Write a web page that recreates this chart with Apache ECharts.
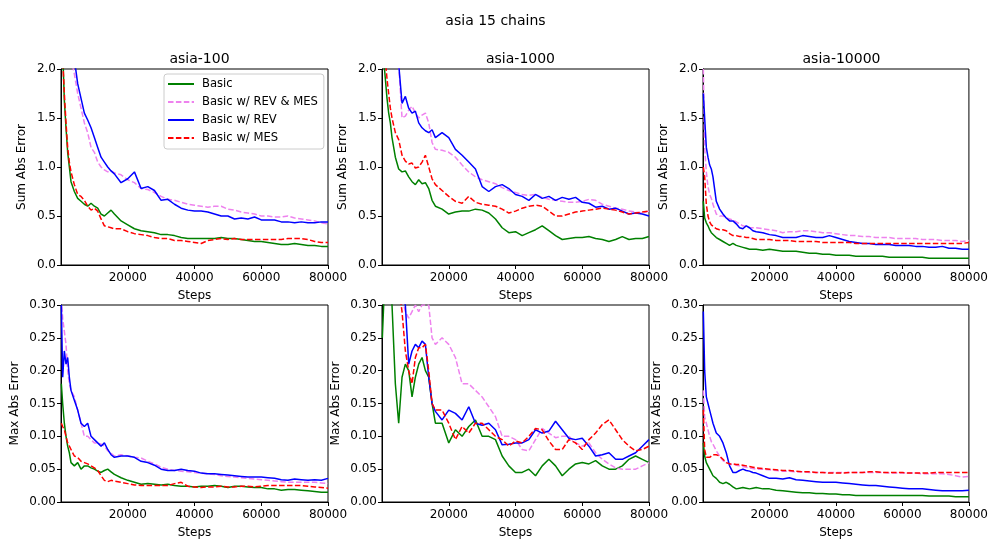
<!DOCTYPE html>
<html>
<head>
<meta charset="utf-8">
<script src="https://cdn.jsdelivr.net/npm/echarts@6/dist/echarts.min.js"></script>
<style>html,body{margin:0;padding:0;background:#fff}#c{width:991px;height:540px}</style>
</head>
<body>
<div id="c"></div>
<script>
const steps = [100,500,1000,1500,2000,2500,3000,4000,5000,6000,7000,8000,9000,10000,11000,12000,13000,14000,15000,16000,18000,20000,22000,24000,26000,28000,30000,32000,34000,36000,38000,40000,42000,44000,46000,48000,50000,52000,54000,56000,58000,60000,62000,64000,66000,68000,70000,72000,74000,76000,78000,80000];
const seriesNames = ['Basic', 'Basic w/ REV & MES', 'Basic w/ REV', 'Basic w/ MES'];
const panelTitles = ['asia-100', 'asia-1000', 'asia-10000'];
const xTicks = [20000, 40000, 60000, 80000];

// asia-100, Sum Abs Error
const sum100_basic = [2.4,2.2,1.68,1.4,1.15,1.0,0.85,0.75,0.68,0.65, 0.62,0.6,0.63,0.6,0.58,0.52,0.5,0.53,0.56,0.52, 0.45,0.41,0.37,0.35,0.34,0.33,0.31,0.31,0.3,0.28, 0.27,0.27,0.27,0.27,0.27,0.28,0.27,0.27,0.26,0.25, 0.24,0.24,0.23,0.22,0.21,0.21,0.22,0.21,0.2,0.2, 0.19,0.19];
const sum100_revmes = [3.0,2.8,2.7,2.6,2.5,2.3,2.1,1.95,1.75,1.6, 1.45,1.35,1.2,1.15,1.05,1.0,0.97,0.95,0.96,0.94, 0.92,0.87,0.84,0.78,0.77,0.74,0.7,0.67,0.66,0.64, 0.62,0.61,0.6,0.59,0.6,0.6,0.57,0.56,0.54,0.53, 0.52,0.5,0.5,0.49,0.49,0.5,0.48,0.47,0.46,0.45, 0.43,0.42];
const sum100_rev = [3.0,2.8,2.7,2.6,2.5,2.4,2.3,2.1,1.85,1.7, 1.55,1.48,1.4,1.3,1.2,1.1,1.05,1.0,0.96,0.93, 0.84,0.88,0.95,0.78,0.8,0.76,0.66,0.67,0.62,0.58, 0.56,0.55,0.55,0.54,0.52,0.5,0.5,0.47,0.48,0.47, 0.49,0.46,0.46,0.46,0.44,0.44,0.43,0.44,0.43,0.43, 0.44,0.44];
const sum100_mes = [2.3,2.1,1.75,1.45,1.2,1.05,0.95,0.82,0.72,0.7, 0.66,0.6,0.56,0.58,0.55,0.47,0.4,0.39,0.38,0.37, 0.37,0.34,0.32,0.31,0.3,0.28,0.27,0.27,0.25,0.25, 0.24,0.23,0.22,0.25,0.26,0.27,0.26,0.27,0.26,0.26, 0.26,0.26,0.26,0.26,0.26,0.27,0.27,0.27,0.26,0.24, 0.23,0.23];

// asia-1000, Sum Abs Error
const sum1000_basic = [2.3,2.1,1.9,1.7,1.55,1.45,1.3,1.1,0.98,0.95, 0.96,0.9,0.85,0.82,0.87,0.83,0.84,0.78,0.66,0.6, 0.57,0.52,0.54,0.55,0.55,0.57,0.56,0.53,0.47,0.38, 0.33,0.34,0.3,0.33,0.36,0.4,0.35,0.3,0.26,0.27, 0.28,0.28,0.29,0.27,0.26,0.24,0.26,0.29,0.26,0.27, 0.27,0.29];
const sum1000_revmes = [3.0,2.9,2.8,2.7,2.6,2.5,2.4,2.2,2.05,1.5, 1.52,1.58,1.62,1.55,1.5,1.53,1.55,1.45,1.25,1.18, 1.17,1.15,1.1,1.02,0.95,0.9,0.87,0.85,0.83,0.79, 0.76,0.74,0.72,0.71,0.72,0.69,0.67,0.66,0.65,0.64, 0.64,0.65,0.67,0.66,0.62,0.6,0.58,0.57,0.55,0.54, 0.53,0.55];
const sum1000_rev = [3.0,2.9,2.8,2.7,2.6,2.5,2.4,2.2,2.05,1.65, 1.72,1.6,1.55,1.57,1.45,1.4,1.37,1.35,1.38,1.3, 1.35,1.3,1.18,1.12,1.05,0.98,0.8,0.75,0.8,0.82, 0.78,0.72,0.7,0.66,0.72,0.68,0.7,0.66,0.69,0.67, 0.69,0.64,0.63,0.59,0.6,0.57,0.58,0.55,0.52,0.53, 0.52,0.5];
const sum1000_mes = [2.6,2.4,2.1,1.9,1.75,1.6,1.5,1.35,1.28,1.12, 1.06,1.03,1.04,0.99,1.0,1.05,1.12,1.0,0.88,0.82, 0.76,0.7,0.65,0.63,0.7,0.64,0.62,0.61,0.6,0.57, 0.53,0.55,0.58,0.6,0.61,0.6,0.55,0.5,0.5,0.52, 0.54,0.55,0.56,0.57,0.58,0.57,0.56,0.54,0.52,0.53, 0.54,0.55];

// asia-10000, Sum Abs Error
const sum10000_basic = [0.65,0.48,0.43,0.4,0.36,0.33,0.31,0.28,0.26,0.24, 0.22,0.2,0.22,0.2,0.19,0.18,0.17,0.16,0.16,0.16, 0.15,0.16,0.15,0.14,0.14,0.14,0.13,0.12,0.12,0.11, 0.11,0.1,0.1,0.1,0.09,0.09,0.09,0.09,0.09,0.08, 0.08,0.08,0.08,0.08,0.08,0.07,0.07,0.07,0.07,0.07, 0.07,0.07];
const sum10000_revmes = [2.0,1.2,0.95,0.8,0.72,0.68,0.62,0.52,0.5,0.5, 0.48,0.47,0.46,0.44,0.42,0.4,0.39,0.38,0.38,0.38, 0.37,0.36,0.35,0.33,0.34,0.34,0.35,0.35,0.34,0.33, 0.33,0.32,0.31,0.3,0.3,0.29,0.29,0.28,0.28,0.28, 0.27,0.27,0.27,0.27,0.26,0.26,0.26,0.25,0.25,0.25, 0.24,0.25];
const sum10000_rev = [1.75,1.5,1.2,1.1,1.02,0.98,0.9,0.65,0.57,0.52, 0.48,0.45,0.45,0.42,0.38,0.37,0.4,0.38,0.35,0.34, 0.33,0.31,0.3,0.28,0.28,0.28,0.3,0.29,0.28,0.28, 0.3,0.28,0.26,0.24,0.23,0.22,0.22,0.21,0.21,0.21, 0.2,0.2,0.2,0.19,0.19,0.18,0.18,0.19,0.17,0.17, 0.16,0.16];
const sum10000_mes = [1.0,0.9,0.62,0.5,0.44,0.41,0.39,0.37,0.36,0.36, 0.35,0.32,0.3,0.3,0.29,0.29,0.28,0.28,0.27,0.26, 0.26,0.26,0.25,0.25,0.25,0.24,0.24,0.24,0.24,0.23, 0.23,0.23,0.23,0.23,0.22,0.22,0.22,0.22,0.22,0.22, 0.22,0.22,0.22,0.22,0.22,0.22,0.22,0.22,0.22,0.22, 0.22,0.23];

// asia-100, Max Abs Error
const max100_basic = [0.18,0.15,0.12,0.1,0.085,0.075,0.06,0.055,0.06,0.05, 0.055,0.055,0.052,0.05,0.047,0.045,0.048,0.05,0.046,0.042, 0.037,0.033,0.03,0.027,0.028,0.027,0.026,0.027,0.025,0.024, 0.024,0.023,0.024,0.024,0.025,0.024,0.022,0.024,0.024,0.023, 0.022,0.022,0.02,0.02,0.018,0.019,0.019,0.018,0.017,0.016, 0.015,0.015];
const max100_revmes = [0.31,0.28,0.26,0.24,0.2,0.18,0.17,0.16,0.14,0.12, 0.1,0.1,0.095,0.09,0.09,0.088,0.085,0.078,0.074,0.07, 0.072,0.07,0.068,0.067,0.062,0.058,0.053,0.05,0.048,0.047, 0.046,0.045,0.044,0.043,0.042,0.04,0.039,0.038,0.037,0.036, 0.035,0.034,0.033,0.032,0.031,0.03,0.03,0.03,0.03,0.03, 0.029,0.028];
const max100_rev = [0.3,0.19,0.23,0.21,0.22,0.19,0.17,0.155,0.14,0.12, 0.115,0.12,0.1,0.095,0.09,0.085,0.09,0.08,0.072,0.068, 0.07,0.07,0.068,0.062,0.06,0.056,0.05,0.048,0.048,0.05, 0.048,0.047,0.044,0.043,0.043,0.042,0.041,0.04,0.039,0.038, 0.038,0.038,0.037,0.036,0.034,0.033,0.035,0.034,0.033,0.034, 0.033,0.036];
const max100_mes = [0.12,0.115,0.11,0.1,0.09,0.085,0.08,0.07,0.068,0.062, 0.06,0.058,0.055,0.052,0.048,0.04,0.033,0.031,0.033,0.032, 0.03,0.028,0.026,0.025,0.025,0.025,0.025,0.025,0.028,0.03, 0.024,0.023,0.022,0.023,0.023,0.024,0.023,0.023,0.024,0.024, 0.023,0.024,0.025,0.025,0.025,0.025,0.025,0.025,0.024,0.023, 0.022,0.021];

// asia-1000, Max Abs Error
const max1000_basic = [0.25,0.3,0.32,0.35,0.31,0.33,0.3,0.18,0.12,0.19, 0.21,0.2,0.16,0.19,0.21,0.22,0.2,0.19,0.15,0.12, 0.12,0.09,0.11,0.1,0.115,0.125,0.1,0.1,0.095,0.07, 0.055,0.045,0.045,0.05,0.04,0.055,0.065,0.055,0.04,0.05, 0.058,0.06,0.058,0.063,0.055,0.05,0.05,0.055,0.065,0.07, 0.065,0.06];
const max1000_revmes = [0.45,0.43,0.41,0.4,0.39,0.38,0.37,0.35,0.33,0.31, 0.29,0.28,0.29,0.3,0.29,0.3,0.3,0.3,0.25,0.24, 0.25,0.24,0.22,0.18,0.18,0.17,0.16,0.145,0.13,0.1, 0.1,0.095,0.08,0.078,0.095,0.112,0.105,0.098,0.1,0.1, 0.09,0.085,0.09,0.075,0.065,0.058,0.052,0.05,0.05,0.05, 0.055,0.06];
const max1000_rev = [0.45,0.42,0.4,0.38,0.37,0.36,0.35,0.34,0.33,0.32, 0.3,0.21,0.23,0.24,0.235,0.245,0.24,0.19,0.15,0.138, 0.125,0.14,0.135,0.125,0.145,0.12,0.117,0.12,0.11,0.087, 0.088,0.09,0.09,0.095,0.11,0.105,0.108,0.123,0.11,0.097, 0.095,0.097,0.085,0.07,0.072,0.075,0.065,0.065,0.07,0.075, 0.085,0.095];
const max1000_mes = [0.45,0.43,0.41,0.4,0.39,0.38,0.37,0.35,0.33,0.29, 0.23,0.2,0.18,0.22,0.235,0.235,0.24,0.2,0.15,0.14, 0.14,0.12,0.095,0.115,0.105,0.12,0.12,0.11,0.1,0.095, 0.085,0.093,0.09,0.1,0.112,0.11,0.093,0.08,0.08,0.095, 0.09,0.08,0.095,0.105,0.118,0.125,0.11,0.095,0.085,0.078, 0.08,0.085];

// asia-10000, Max Abs Error
const max10000_basic = [0.09,0.07,0.06,0.055,0.05,0.045,0.04,0.036,0.03,0.028, 0.03,0.027,0.023,0.02,0.021,0.022,0.021,0.02,0.021,0.022, 0.02,0.02,0.018,0.017,0.016,0.015,0.014,0.014,0.013,0.013, 0.012,0.012,0.011,0.011,0.01,0.01,0.01,0.01,0.01,0.01, 0.01,0.01,0.01,0.01,0.01,0.009,0.009,0.009,0.009,0.008, 0.008,0.008];
const max10000_revmes = [0.17,0.13,0.12,0.11,0.1,0.092,0.088,0.078,0.07,0.063, 0.06,0.058,0.057,0.056,0.055,0.054,0.053,0.052,0.051,0.05, 0.05,0.049,0.048,0.047,0.047,0.046,0.046,0.045,0.045,0.045, 0.045,0.045,0.045,0.045,0.045,0.045,0.045,0.045,0.045,0.044, 0.044,0.044,0.044,0.044,0.043,0.043,0.043,0.043,0.042,0.04, 0.038,0.039];
const max10000_rev = [0.29,0.2,0.16,0.15,0.14,0.13,0.12,0.105,0.1,0.09, 0.075,0.055,0.045,0.045,0.048,0.05,0.048,0.047,0.045,0.044, 0.04,0.036,0.036,0.035,0.037,0.034,0.033,0.032,0.031,0.03, 0.03,0.03,0.029,0.028,0.027,0.026,0.025,0.025,0.024,0.023, 0.022,0.021,0.02,0.02,0.02,0.019,0.018,0.017,0.017,0.017, 0.017,0.018];
const max10000_mes = [0.14,0.08,0.068,0.065,0.068,0.07,0.072,0.072,0.07,0.065, 0.06,0.058,0.058,0.057,0.057,0.056,0.055,0.054,0.053,0.052, 0.051,0.05,0.049,0.048,0.048,0.047,0.046,0.046,0.045,0.045, 0.044,0.044,0.044,0.045,0.045,0.045,0.046,0.046,0.045,0.045, 0.045,0.045,0.044,0.044,0.044,0.044,0.045,0.045,0.045,0.045, 0.045,0.045];

const panels = [
  {row:0, col:0, y:[sum100_basic, sum100_revmes, sum100_rev, sum100_mes]},
  {row:0, col:1, y:[sum1000_basic, sum1000_revmes, sum1000_rev, sum1000_mes]},
  {row:0, col:2, y:[sum10000_basic, sum10000_revmes, sum10000_rev, sum10000_mes]},
  {row:1, col:0, y:[max100_basic, max100_revmes, max100_rev, max100_mes]},
  {row:1, col:1, y:[max1000_basic, max1000_revmes, max1000_rev, max1000_mes]},
  {row:1, col:2, y:[max10000_basic, max10000_revmes, max10000_rev, max10000_mes]}
];

const FONT = 'DejaVu Sans';
const colors = ['#008000', '#ee82ee', '#0000ff', '#ff0000'];
const dashed = [false, true, false, true];
const lefts = [61, 382, 703];
const W = 267;
const tops = [69, 305];
const Hs = [196, 197];
const rowCfg = [
  {name:'Sum Abs Error', max:2.0, interval:0.5, dec:1, gap:33},
  {name:'Max Abs Error', max:0.30, interval:0.05, dec:2, gap:40}
];

const grids = [], xAxes = [], yAxes = [], series = [];
panels.forEach((p, i) => {
  grids.push({left: lefts[p.col], top: tops[p.row], width: W, height: Hs[p.row],
    show: true, borderColor: '#000', borderWidth: 1, backgroundColor: 'transparent'});
  xAxes.push({type:'value', gridIndex:i, min:0, max:80000, interval:20000,
    name:'Steps', nameLocation:'middle', nameGap:25,
    nameTextStyle:{fontFamily:FONT, fontSize:12, color:'#000'},
    axisLine:{show:true, onZero:false, lineStyle:{color:'#000', width:1}},
    axisTick:{show:true, length:4, customValues: xTicks, lineStyle:{color:'#000'}},
    axisLabel:{show:true, customValues: xTicks, margin:7, fontFamily:FONT, fontSize:12, color:'#000',
      formatter: v => v === 0 ? '' : String(v)},
    splitLine:{show:false}});
  const rc = rowCfg[p.row];
  yAxes.push({type:'value', gridIndex:i, min:0, max:rc.max, interval:rc.interval,
    name:rc.name, nameLocation:'middle', nameGap:rc.gap, nameRotate:90,
    nameTextStyle:{fontFamily:FONT, fontSize:12, color:'#000'},
    axisLine:{show:true, onZero:false, lineStyle:{color:'#000', width:1}},
    axisTick:{show:true, length:4, lineStyle:{color:'#000'}},
    axisLabel:{margin:5, fontFamily:FONT, fontSize:12, color:'#000',
      formatter: v => v.toFixed(rc.dec)},
    splitLine:{show:false}});
  p.y.forEach((vals, k) => {
    series.push({type:'line', name: seriesNames[k], xAxisIndex:i, yAxisIndex:i,
      data: steps.map((s, j) => [s, vals[j]]),
      showSymbol:false, symbol:'none', clip:true, animation:false,
      lineStyle:{color:colors[k], width:1.5, type: dashed[k] ? [5.5, 2.4] : 'solid'},
      itemStyle:{color:colors[k]}, z: 2 + k});
  });
});

const titles = [{text:'asia 15 chains', left:'center', top:9,
  textStyle:{fontFamily:FONT, fontSize:14, fontWeight:'normal', color:'#000'}}];
panelTitles.forEach((t, c) => {
  titles.push({text:t, left: lefts[c] + W/2, top:47, textAlign:'center',
    textStyle:{fontFamily:FONT, fontSize:14, fontWeight:'normal', color:'#000'}});
});

const chart = echarts.init(document.getElementById('c'), null, {renderer:'canvas'});
chart.setOption({
  animation:false,
  backgroundColor:'#fff',
  title: titles,
  legend: {data: seriesNames, orient:'vertical', left:164, top:74,
    padding:[4,6,5,3], itemGap:6, itemWidth:26, itemHeight:12,
    itemStyle:{opacity:0},
    borderColor:'#cccccc', borderWidth:1, borderRadius:3,
    backgroundColor:'rgba(255,255,255,0.85)',
    textStyle:{fontFamily:FONT, fontSize:11.6, color:'#000', padding:[0,0,0,3]}},
  grid: grids, xAxis: xAxes, yAxis: yAxes, series: series
});
</script>
</body>
</html>
